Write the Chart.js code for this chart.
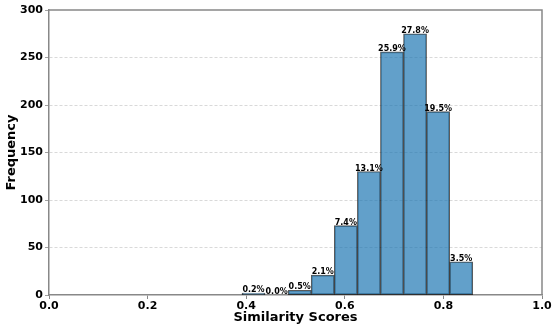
<!DOCTYPE html>
<html>
<head>
<meta charset="utf-8">
<script src="https://cdn.jsdelivr.net/npm/chart.js@4/dist/chart.umd.min.js"></script>
<style>
  html, body { margin: 0; padding: 0; background: #fff; }
  canvas { display: block; }
</style>
</head>
<body>
<canvas id="chart" width="556" height="332"></canvas>
<script>
// histogram bins (centres) and counts
const binCenters = [0.4149, 0.4617, 0.5085, 0.5553, 0.6021, 0.6489, 0.6957, 0.7425, 0.7893, 0.8361];
const counts = [2, 0, 5, 21, 73, 130, 256, 275, 193, 35];
const xRange = [0, 1];
const yRange = [0, 300];
const xStep = 0.2;
const yStep = 50;

const total = counts.reduce((a, b) => a + b, 0);
const FONT = "'DejaVu Sans', sans-serif";
const SPINE = '#888888';

// percent labels above each bar
const percentLabels = {
  id: 'percentLabels',
  afterDatasetsDraw(chart) {
    const ctx = chart.ctx;
    const meta = chart.getDatasetMeta(0);
    ctx.save();
    ctx.font = 'bold 8px ' + FONT;
    ctx.fillStyle = '#000';
    ctx.textAlign = 'center';
    ctx.textBaseline = 'bottom';
    meta.data.forEach((bar, i) => {
      const pct = (counts[i] / total * 100).toFixed(1) + '%';
      ctx.fillText(pct, bar.x, bar.y + 1);
    });
    ctx.restore();
  }
};

// top and right spines like the original
const spines = {
  id: 'spines',
  afterDraw(chart) {
    const { ctx, chartArea } = chart;
    ctx.save();
    ctx.strokeStyle = SPINE;
    ctx.lineWidth = 1.5;
    ctx.beginPath();
    ctx.moveTo(chartArea.left, chartArea.top);
    ctx.lineTo(chartArea.right, chartArea.top);
    ctx.lineTo(chartArea.right, chartArea.bottom);
    ctx.stroke();
    ctx.restore();
  }
};

const ctx = document.getElementById('chart').getContext('2d');
new Chart(ctx, {
  type: 'bar',
  data: {
    datasets: [{
      data: binCenters.map((x, i) => ({ x: x, y: counts[i] })),
      backgroundColor: 'rgba(31, 119, 180, 0.7)',
      borderColor: 'rgba(0, 0, 0, 0.65)',
      borderWidth: 1,
      borderSkipped: false,
      barPercentage: 1.0,
      categoryPercentage: 1.0
    }]
  },
  options: {
    responsive: false,
    animation: false,
    devicePixelRatio: 1,
    layout: { padding: { top: 10, right: 14, left: 4, bottom: 7 } },
    plugins: {
      legend: { display: false },
      tooltip: { enabled: false }
    },
    scales: {
      x: {
        type: 'linear',
        offset: false,
        min: xRange[0],
        max: xRange[1],
        ticks: {
          stepSize: xStep,
          autoSkip: false,
          color: '#000',
          font: { family: FONT, size: 11, weight: 'bold' },
          padding: 1,
          maxRotation: 0,
          callback: (v) => Number(v).toFixed(1)
        },
        grid: {
          offset: false,
          drawOnChartArea: false,
          drawTicks: true,
          tickLength: 4,
          tickColor: SPINE
        },
        border: { color: SPINE, width: 1.5 },
        title: {
          display: true,
          text: 'Similarity Scores',
          color: '#000',
          font: { family: FONT, size: 13, weight: 'bold' },
          padding: { top: 1, bottom: 0 }
        },
        afterFit: (scale) => { scale.height = 30; }
      },
      y: {
        min: yRange[0],
        max: yRange[1],
        ticks: {
          stepSize: yStep,
          color: '#000',
          font: { family: FONT, size: 11, weight: 'bold' },
          padding: 2
        },
        grid: {
          color: (c) => (c.tick && (c.tick.value === 0 || c.tick.value === 300)) ? 'rgba(0,0,0,0)' : '#cfcfcf',
          lineWidth: 0.8,
          drawTicks: true,
          tickLength: 4,
          tickColor: SPINE,
          tickBorderDash: []
        },
        border: { color: SPINE, width: 1.5, dash: [3, 2] },
        title: {
          display: true,
          text: 'Frequency',
          color: '#000',
          font: { family: FONT, size: 13, weight: 'bold' },
          padding: { top: 0, bottom: 0 }
        },
        afterFit: (scale) => { scale.width = 45; }
      }
    }
  },
  plugins: [percentLabels, spines]
});
</script>
</body>
</html>
